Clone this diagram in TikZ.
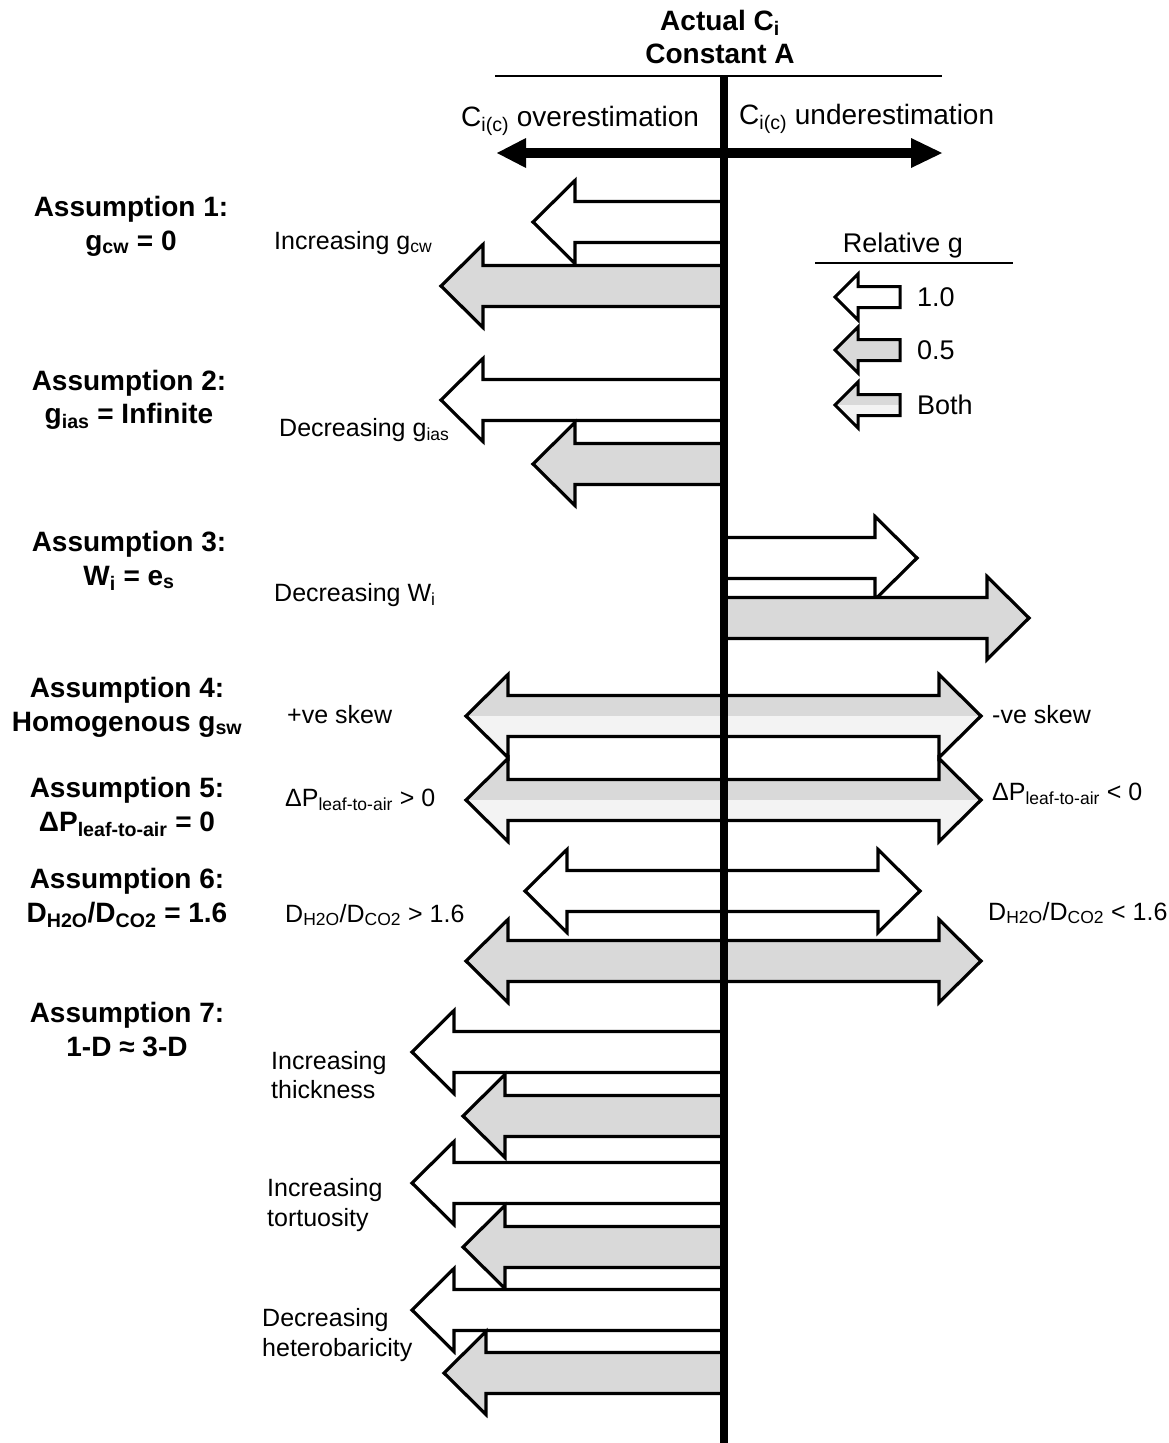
\documentclass[tikz,border=0pt]{standalone}
\usepackage{fontspec}
\setmainfont{Liberation Sans}
\definecolor{gfill}{HTML}{D9D9D9}
\definecolor{lfill}{HTML}{F3F3F3}
\def\ax{724}
\def\hs{20.5}
\def\hh{41.5}
\def\hl{42}
\newcommand\LArrowAt[3]{\path[#3] (\ax,#1-\hs) -- (#2+\hl,#1-\hs) -- (#2+\hl,#1-\hh) -- (#2,#1) -- (#2+\hl,#1+\hh) -- (#2+\hl,#1+\hs) -- (\ax,#1+\hs);}
\newcommand\RArrowAt[3]{\path[#3] (\ax,#1-\hs) -- (#2-\hl,#1-\hs) -- (#2-\hl,#1-\hh) -- (#2,#1) -- (#2-\hl,#1+\hh) -- (#2-\hl,#1+\hs) -- (\ax,#1+\hs);}
\newcommand\DArrowAt[4]{\path[#4] (#2+\hl,#1-\hs) -- (#3-\hl,#1-\hs) -- (#3-\hl,#1-\hh) -- (#3,#1) -- (#3-\hl,#1+\hh) -- (#3-\hl,#1+\hs) -- (#2+\hl,#1+\hs) -- (#2+\hl,#1+\hh) -- (#2,#1) -- (#2+\hl,#1-\hh) -- cycle;}
\newcommand\LegArrow[2]{\path[#2] (900,#1-10.5) -- (858,#1-10.5) -- (858,#1-23) -- (835,#1) -- (858,#1+23) -- (858,#1+10.5) -- (900,#1+10.5) -- cycle;}
\tikzset{
  outl/.style={draw=black, line width=3.2pt, line join=miter, miter limit=10},
  wht/.style={outl, fill=white},
  gry/.style={outl, fill=gfill},
  both/.style={outl, fill=lfill, path picture={\fill[gfill] (path picture bounding box.north west) rectangle (path picture bounding box.east);}},
  legw/.style={wht, line width=3pt},
  legg/.style={gry, line width=3pt},
  legb/.style={both, line width=3pt},
  ttl/.style={font=\fontsize{28}{32}\selectfont\bfseries, inner sep=0pt, anchor=base},
  axl/.style={font=\fontsize{28}{32}\selectfont, inner sep=0pt, anchor=base west},
  legl/.style={font=\fontsize{27}{31}\selectfont, inner sep=0pt, anchor=base west},
  lbl/.style={font=\fontsize{25}{29}\selectfont, inner sep=0pt, anchor=base west},
}
\begin{document}
\begin{tikzpicture}[x=1pt,y=-1pt]
\useasboundingbox (0,0) rectangle (1169,1443);
\fill[white] (0,0) rectangle (1169,1443);

% title
\node[ttl] (t1) at (720,30) {Actual C\textsubscript{i}};
\node[ttl] (t2) at (720,63) {Constant A};
\draw[line width=2pt] (495,76) -- (942,76);

% axis labels
\node[axl] (ov) at (461,126) {C\textsubscript{i(c)} overestimation};
\node[axl] (un) at (739,124) {C\textsubscript{i(c)} underestimation};

% horizontal double arrow
\draw[line width=10pt] (522,153) -- (915,153);
\fill (497,153) -- (526,138) -- (526,168) -- cycle;
\fill (942,153) -- (911,138) -- (911,168) -- cycle;

% Assumption 1
\LArrowAt{222}{533}{wht}
\LArrowAt{286}{441}{gry}
% Assumption 2
\LArrowAt{400}{441}{wht}
\LArrowAt{464}{533}{gry}
% Assumption 3
\RArrowAt{558}{917}{wht}
\RArrowAt{618}{1029}{gry}
% Assumption 4 and 5
\DArrowAt{716}{466}{981}{both}
\DArrowAt{800}{466}{981}{both}
% Assumption 6
\DArrowAt{891}{525}{920}{wht}
\DArrowAt{961}{466}{981}{gry}
% Assumption 7
\LArrowAt{1052}{412}{wht}
\LArrowAt{1116}{463}{gry}
\LArrowAt{1183}{412}{wht}
\LArrowAt{1247}{463}{gry}
\LArrowAt{1310}{412}{wht}
\LArrowAt{1373}{444}{gry}

% vertical axis
\fill (720,76) rectangle (728,1443);

% legend
\node[legl, anchor=base] (rg) at (903,252) {Relative g};
\draw[line width=2pt] (815,263) -- (1013,263);
\LegArrow{297}{legw}
\LegArrow{350}{legg}
\LegArrow{405}{legb}
\node[legl] (l1) at (917,306) {1.0};
\node[legl] (l2) at (917,359) {0.5};
\node[legl] (l3) at (917,414) {Both};

% assumption titles
\node[ttl] (a1) at (131,216) {Assumption 1:};
\node[ttl] (a1b) at (131,250) {g\textsubscript{cw} = 0};
\node[ttl] (a2) at (129,390) {Assumption 2:};
\node[ttl] (a2b) at (129,423) {g\textsubscript{ias} = Infinite};
\node[ttl] (a3) at (129,551) {Assumption 3:};
\node[ttl] (a3b) at (129,585) {W\textsubscript{i} = e\textsubscript{s}};
\node[ttl] (a4) at (127,697) {Assumption 4:};
\node[ttl] (a4b) at (127,731) {Homogenous g\textsubscript{sw}};
\node[ttl] (a5) at (127,797) {Assumption 5:};
\node[ttl] (a5b) at (127,831) {ΔP\textsubscript{leaf-to-air} = 0};
\node[ttl] (a6) at (127,888) {Assumption 6:};
\node[ttl] (a6b) at (127,922) {D\textsubscript{H2O}/D\textsubscript{CO2} = 1.6};
\node[ttl] (a7) at (127,1022) {Assumption 7:};
\node[ttl] (a7b) at (127,1056) {1-D ≈ 3-D};

% side labels
\node[lbl] (s1) at (274,249) {Increasing g\textsubscript{cw}};
\node[lbl] (s2) at (279,436) {Decreasing g\textsubscript{ias}};
\node[lbl] (s3) at (274,601) {Decreasing W\textsubscript{i}};
\node[lbl] (s4) at (287,723) {+ve skew};
\node[lbl] (s5) at (285,806) {ΔP\textsubscript{leaf-to-air} > 0};
\node[lbl] (s6) at (285,922) {D\textsubscript{H2O}/D\textsubscript{CO2} > 1.6};
\node[lbl] (s7a) at (271,1069) {Increasing};
\node[lbl] (s7b) at (271,1098) {thickness};
\node[lbl] (s8a) at (267,1196) {Increasing};
\node[lbl] (s8b) at (267,1226) {tortuosity};
\node[lbl] (s9a) at (262,1326) {Decreasing};
\node[lbl] (s9b) at (262,1356) {heterobaricity};
\node[lbl] (r4) at (992,723) {-ve skew};
\node[lbl] (r5) at (992,800) {ΔP\textsubscript{leaf-to-air} < 0};
\node[lbl] (r6) at (988,920) {D\textsubscript{H2O}/D\textsubscript{CO2} < 1.6};
\end{tikzpicture}
\end{document}
